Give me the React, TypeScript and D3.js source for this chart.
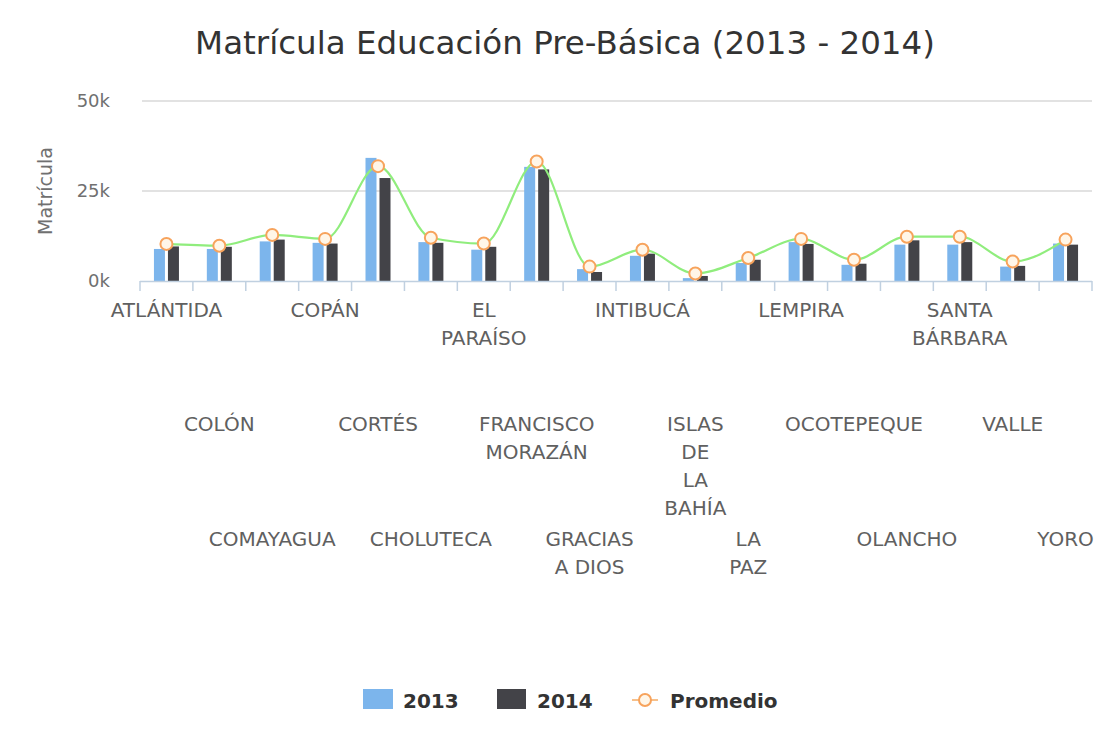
import React from "react";
import * as d3 from "d3";

// Departamentos (line breaks as in the original wrapped axis labels)
const categories = [
  "Atlántida", "Colón", "Comayagua", "Copán", "Cortés", "Choluteca",
  "El\nParaíso", "Francisco\nMorazán", "Gracias\na Dios", "Intibucá",
  "Islas\nde\nla\nBahía", "La\nPaz", "Lempira", "Ocotepeque", "Olancho",
  "Santa\nBárbara", "Valle", "Yoro",
];

const matricula2013 = [
  8900, 8900, 11000, 10600, 34200, 10800, 8700, 31700, 3300,
  7000, 800, 5000, 10800, 4500, 10100, 10100, 4000, 10400,
];

const matricula2014 = [
  9600, 9500, 11500, 10400, 28600, 10600, 9500, 31000, 2500,
  7600, 1400, 5900, 10300, 4800, 11300, 10800, 4200, 10100,
];

const promedio = [
  10300, 9800, 12800, 11700, 31900, 12000, 10400, 33200, 4000,
  8700, 2100, 6400, 11700, 5900, 12300, 12300, 5400, 11500,
];

const yTicks = [0, 25000, 50000];

const W = 1108;
const H = 731;
const font = "'DejaVu Sans', Verdana, sans-serif";

export default function App() {
  const left = 140;
  const right = 1092;
  const top = 101;
  const bottom = 281;

  const x = d3.scaleBand<string>().domain(categories).range([left, right]).padding(0);
  const y = d3.scaleLinear().domain([0, 50000]).range([bottom, top]);

  const barW = 11;
  const gap = 3;
  const cx = (i: number) => (x(categories[i]) as number) + x.bandwidth() / 2;

  const line = d3
    .line<number>()
    .x((_, i) => cx(i))
    .y((d) => y(d))
    .curve(d3.curveMonotoneX);

  const boundaries = categories.map((c) => x(c) as number).concat([right]);

  const rowY = [317, 431, 546];
  const lineH = 28;

  return (
    <svg
      width={W}
      height={H}
      style={{ position: "absolute", left: 0, top: 0, background: "#fff" }}
      fontFamily={font}
    >
      <rect width={W} height={H} fill="#fff" />

      <text x={565} y={54} textAnchor="middle" fontSize={32.5} fill="#333">
        Matrícula Educación Pre-Básica (2013 - 2014)
      </text>

      {/* grid + y axis */}
      {yTicks.map((t) => (
        <g key={t}>
          {t > 0 && (
            <line x1={left + 2} x2={right} y1={y(t)} y2={y(t)} stroke="#d8d8d8" strokeWidth={1.5} />
          )}
          <text x={110} y={y(t)} dy="0.35em" textAnchor="end" fontSize={18} fill="#707070">
            {d3.format("d")(t / 1000) + "k"}
          </text>
        </g>
      ))}
      <text
        transform={`translate(52,${(top + bottom) / 2}) rotate(-90)`}
        textAnchor="middle"
        fontSize={19}
        fill="#707070"
      >
        Matrícula
      </text>

      {/* bars */}
      {categories.map((c, i) => (
        <g key={c}>
          <rect
            x={cx(i) - gap / 2 - barW}
            y={y(matricula2013[i])}
            width={barW}
            height={y(0) - y(matricula2013[i])}
            fill="#7cb5ec"
          />
          <rect
            x={cx(i) + gap / 2}
            y={y(matricula2014[i])}
            width={barW}
            height={y(0) - y(matricula2014[i])}
            fill="#434348"
          />
        </g>
      ))}

      {/* x axis */}
      <line x1={left} x2={right} y1={bottom + 0.5} y2={bottom + 0.5} stroke="#c0d0e0" strokeWidth={1.5} />
      {boundaries.map((b, i) => (
        <line key={i} x1={b} x2={b} y1={bottom} y2={bottom + 10} stroke="#c0d0e0" strokeWidth={1.5} />
      ))}

      {/* promedio spline */}
      <path d={line(promedio) ?? ""} fill="none" stroke="#90ed7d" strokeWidth={2.2} />
      {promedio.map((v, i) => (
        <circle key={i} cx={cx(i)} cy={y(v)} r={6} fill="#fff6e8" stroke="#f7a35c" strokeWidth={2} />
      ))}

      {/* staggered category labels */}
      {categories.map((c, i) => (
        <text key={c} textAnchor="middle" fontSize={20} fill="#606060">
          {c
            .toUpperCase()
            .split("\n")
            .map((ln, k) => (
              <tspan key={k} x={cx(i)} y={rowY[i % 3] + k * lineH}>
                {ln}
              </tspan>
            ))}
        </text>
      ))}

      {/* legend */}
      <g fontSize={20} fontWeight="bold" fill="#333">
        <rect x={363} y={689} width={30} height={20} fill="#7cb5ec" />
        <text x={403} y={708}>2013</text>
        <rect x={497} y={689} width={29} height={20} fill="#434348" />
        <text x={537} y={708}>2014</text>
        <line x1={632} x2={658} y1={700} y2={700} stroke="#f7c08a" strokeWidth={2} />
        <circle cx={645} cy={700} r={6} fill="#fff6e8" stroke="#f7a35c" strokeWidth={2} />
        <text x={670} y={708}>Promedio</text>
      </g>
    </svg>
  );
}
